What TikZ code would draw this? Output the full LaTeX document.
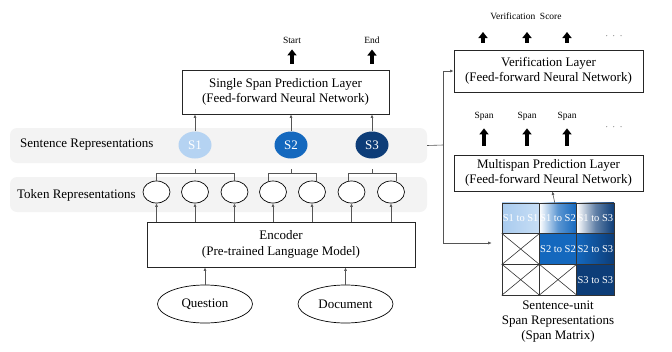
\documentclass[tikz,border=0pt]{standalone}
\usepackage{fontspec}
\setmainfont{Liberation Serif}
\usetikzlibrary{shapes.geometric, arrows.meta, calc, positioning}
\definecolor{sonecol}{HTML}{B5D3F2}
\definecolor{stwocol}{HTML}{1468BE}
\definecolor{sthreecol}{HTML}{0D3D78}
\definecolor{bandgray}{HTML}{F3F3F3}
\definecolor{linegray}{HTML}{555555}

\begin{document}
\begin{tikzpicture}[x=1pt, y=-1pt]
			\tikzstyle{layerbox}=[draw=black!85, line width=0.8pt, fill=white, align=center, font=\fontsize{13}{15.5}\selectfont, inner sep=0pt]
			\tikzstyle{repband}=[fill=bandgray, rounded corners=7pt, minimum width=417pt, minimum height=35pt, inner sep=0pt]
			\tikzstyle{tokennode}=[ellipse, draw=black, line width=0.7pt, fill=white, minimum width=27pt, minimum height=22pt, inner sep=0pt]
			\tikzstyle{sentnode}=[ellipse, minimum width=33pt, minimum height=27pt, inner sep=0pt, text=white, font=\fontsize{13}{15}\selectfont]
			\tikzstyle{inputnode}=[ellipse, draw=black, line width=0.7pt, minimum width=95pt, minimum height=38pt, inner sep=0pt, font=\fontsize{13}{15}\selectfont]
			\tikzstyle{cellnode}=[draw=black!80, line width=0.6pt, minimum width=37.33pt, minimum height=30.67pt, inner sep=0pt, text=white, font=\fontsize{10.5}{12}\selectfont]
			\tikzstyle{smalllabel}=[font=\fontsize{9.5}{11}\selectfont, inner sep=0pt]
			\tikzstyle{biglabel}=[font=\fontsize{13}{15}\selectfont, inner sep=0pt]
			\tikzstyle{thinarrow}=[-{Latex[length=3.5pt, width=3pt]}, draw=linegray, line width=0.6pt]
			\tikzstyle{bigarrow}=[-{Triangle[length=6pt, width=9pt]}, line width=3.5pt, black]
			\tikzstyle{bracket}=[draw=linegray, line width=0.6pt]
			
			\useasboundingbox (0,0) rectangle (672,351);
			
			% representation bands
			\node[repband] (sentband) at (218.5,145.5) {};
			\node[repband] (tokband) at (218.5,194.5) {};
			\node[biglabel, anchor=west] (sentlab) at (20,145) {Sentence Representations};
			\node[biglabel, anchor=west] (toklab) at (17,195) {Token Representations};
			
			% single span branch
			\node[layerbox, minimum width=207pt, minimum height=44pt] (single) at (285.5,92) {Single Span Prediction Layer\\(Feed-forward Neural Network)};
			\node[smalllabel] (start) at (292,40) {Start};
			\node[smalllabel] (end) at (372,40) {End};
			\draw[bigarrow, shorten <=6pt, shorten >=6pt] (single.north -| start) -- (start.south);
			\draw[bigarrow, shorten <=6pt, shorten >=6pt] (single.north -| end) -- (end.south);
			
			\node[sentnode, fill=sonecol] (s1) at (195,145) {S1};
			\node[sentnode, fill=stwocol] (s2) at (291,145) {S2};
			\node[sentnode, fill=sthreecol] (s3) at (372,145) {S3};
			\draw[thinarrow] (s1) -- (s1 |- single.south);
			\draw[thinarrow] (s2) -- (s2 |- single.south);
			\draw[thinarrow] (s3) -- (s3 |- single.south);
			
			\node[tokennode] (t1) at (156.5,192) {};
			\node[tokennode] (t2) at (195,192) {};
			\node[tokennode] (t3) at (234.5,192) {};
			\node[tokennode] (t4) at (273,192) {};
			\node[tokennode] (t5) at (312,192) {};
			\node[tokennode] (t6) at (351.5,192) {};
			\node[tokennode] (t7) at (391,192) {};
			
			% brackets
			\draw[bracket] (t1.north) -- ++(0,-7) -| (t3.north);
			\draw[bracket] (s1 |- t1.north) ++(0,-7) -- ++(0,-5);
			\draw[bracket] ($(t4.north)+(-4.5,0)$) -- ++(0,-7) -| ($(t5.north)+(4.5,0)$);
			\draw[bracket] (s2 |- t4.north) ++(0,-7) -- ++(0,-5);
			\draw[bracket] ($(t6.north)+(-3.5,0)$) -- ++(0,-7) -| ($(t7.north)+(5.5,0)$);
			\draw[bracket] (s3 |- t6.north) ++(0,-7) -- ++(0,-5);
			
			% encoder
			\node[layerbox, minimum width=268pt, minimum height=45pt] (enc) at (281,244.5) {Encoder\\(Pre-trained Language Model)};
			\draw[thinarrow] (enc.north -| t1) -- (t1.south);
			\draw[thinarrow] (enc.north -| t2) -- (t2.south);
			\draw[thinarrow] (enc.north -| t3) -- (t3.south);
			\draw[thinarrow] (enc.north -| t4) -- (t4.south);
			\draw[thinarrow] (enc.north -| t5) -- (t5.south);
			\draw[thinarrow] (enc.north -| t6) -- (t6.south);
			\draw[thinarrow] (enc.north -| t7) -- (t7.south);
			
			\node[inputnode] (question) at (205,304) {Question};
			\node[inputnode] (document) at (345.5,304) {Document};
			\draw[thinarrow] (question) -- (question |- enc.south);
			\draw[thinarrow] (document) -- (document |- enc.south);
			
			% multispan branch
			\node[layerbox, minimum width=189pt, minimum height=42pt] (verif) at (548.5,71) {Verification Layer\\(Feed-forward Neural Network)};
			\node[layerbox, minimum width=189pt, minimum height=36pt] (multi) at (548.5,173) {Multispan Prediction Layer\\(Feed-forward Neural Network)};
			
			\node[smalllabel] (score) at (526,16) {Verification\enspace Score};
			\coordinate (va1) at (483,32);
			\coordinate (va2) at (527,32);
			\coordinate (va3) at (567,32);
			\draw[bigarrow, shorten <=7pt] (verif.north -| va1) -- (va1);
			\draw[bigarrow, shorten <=7pt] (verif.north -| va2) -- (va2);
			\draw[bigarrow, shorten <=7pt] (verif.north -| va3) -- (va3);
			\node[smalllabel] (vdots) at (614,36) {$\cdot\;\cdot\;\cdot$};
			
			\node[smalllabel] (span1) at (484,116) {Span};
			\node[smalllabel] (span2) at (527,116) {Span};
			\node[smalllabel] (span3) at (567,116) {Span};
			\draw[bigarrow, shorten <=9pt, shorten >=8pt] (multi.north -| span1) -- (span1.south);
			\draw[bigarrow, shorten <=9pt, shorten >=8pt] (multi.north -| span2) -- (span2.south);
			\draw[bigarrow, shorten <=9pt, shorten >=8pt] (multi.north -| span3) -- (span3.south);
			\node[smalllabel] (sdots) at (614,127) {$\cdot\;\cdot\;\cdot$};
			
			% span matrix
			\node[cellnode, left color=sonecol!92!stwocol, right color=sonecol!75!white] (m11) at (520.67,218.33) {S1 to S1};
			\node[cellnode, left color=white, right color=stwocol, middle color=stwocol!70!white] (m12) at (558,218.33) {S1 to S2};
			\node[cellnode, left color=white, right color=sthreecol, middle color=sthreecol!65!white] (m13) at (595.33,218.33) {S1 to S3};
			\node[cellnode] (m21) at (520.67,249) {};
			\node[cellnode, fill=stwocol] (m22) at (558,249) {S2 to S2};
			\node[cellnode, left color=stwocol, right color=sthreecol] (m23) at (595.33,249) {S2 to S3};
			\node[cellnode] (m31) at (520.67,279.67) {};
			\node[cellnode] (m32) at (558,279.67) {};
			\node[cellnode, fill=sthreecol] (m33) at (595.33,279.67) {S3 to S3};
			\draw[bracket, black!80] (m21.north west) -- (m21.south east) (m21.north east) -- (m21.south west);
			\draw[bracket, black!80] (m31.north west) -- (m31.south east) (m31.north east) -- (m31.south west);
			\draw[bracket, black!80] (m32.north west) -- (m32.south east) (m32.north east) -- (m32.south west);
			\node[biglabel, align=center, below=5pt of m32] (matlab) {Sentence-unit\\Span Representations\\(Span Matrix)};
			
			\draw[thinarrow] (m12) -- (multi);
			
			% connections to the right branch
			\coordinate (jn) at (443,145);
			\draw[bracket] (sentband.east) -- (jn);
			\draw[thinarrow] (jn) |- (verif.west);
			\draw[thinarrow, shorten >=10pt] (jn) |- ($(m21.west)+(0,-6)$);
			
			\end{tikzpicture}
\end{document}
